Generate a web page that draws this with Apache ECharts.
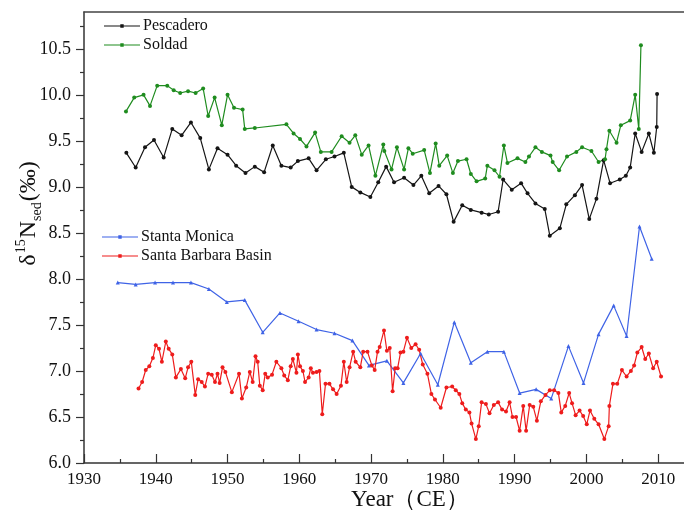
<!DOCTYPE html>
<html>
<head>
<meta charset="utf-8">
<script src="https://cdn.jsdelivr.net/npm/echarts@6/dist/echarts.min.js"></script>
<style>
  html, body { margin: 0; padding: 0; background: #fff; }
  #chart { width: 684px; height: 515px; }
</style>
</head>
<body>
<div id="chart"></div>
<script>
// δ15N of sediments at four Californian margin sites, by year (CE)
const pescaderoYears = [1935.9, 1937.2, 1938.5, 1939.75, 1941.1, 1942.3, 1943.6, 1944.9, 1946.2, 1947.4,
  1948.6, 1950.0, 1951.2, 1952.5, 1953.8, 1955.1, 1956.3, 1957.5, 1958.8, 1959.8,
  1961.3, 1962.4, 1963.7, 1964.9, 1966.2, 1967.3, 1968.5, 1969.9, 1971.0, 1972.1,
  1973.2, 1974.6, 1975.9, 1977.0, 1978.1, 1979.4, 1980.5, 1981.5, 1982.7, 1983.9,
  1985.4, 1986.4, 1987.7, 1988.4, 1989.6, 1990.9, 1991.8, 1992.9, 1994.2, 1994.9,
  1996.3, 1997.2, 1998.4, 1999.4, 2000.4, 2001.4, 2002.4, 2003.3, 2004.65, 2005.5,
  2006.1, 2006.8, 2007.7, 2008.7, 2009.4, 2009.8, 2009.85];
const pescaderoValues = [9.37, 9.21, 9.43, 9.51, 9.32, 9.63, 9.56, 9.70, 9.53, 9.19,
  9.42, 9.35, 9.23, 9.15, 9.22, 9.16, 9.45, 9.23, 9.21, 9.28,
  9.31, 9.18, 9.30, 9.33, 9.37, 9.00, 8.94, 8.89, 9.05, 9.22,
  9.05, 9.10, 9.02, 9.12, 8.93, 9.01, 8.92, 8.62, 8.80, 8.75,
  8.72, 8.70, 8.73, 9.08, 8.97, 9.04, 8.93, 8.82, 8.76, 8.47,
  8.55, 8.81, 8.91, 9.02, 8.65, 8.87, 9.29, 9.04, 9.08, 9.12,
  9.21, 9.58, 9.38, 9.58, 9.37, 9.65, 10.01];

const soldadYears = [1935.85, 1937.0, 1938.3, 1939.2, 1940.2, 1941.6, 1942.5, 1943.4, 1944.5, 1945.55,
  1946.6, 1947.3, 1948.2, 1949.2, 1950.0, 1950.9, 1952.1, 1952.4, 1953.8, 1958.2,
  1959.2, 1960.1, 1961.0, 1962.2, 1963.0, 1964.5, 1965.9, 1967.0, 1967.8, 1968.7,
  1969.65, 1970.6, 1971.7, 1971.85, 1972.85, 1973.6, 1974.6, 1975.2, 1975.8, 1977.4,
  1978.2, 1979.0, 1979.5, 1980.6, 1981.4, 1982.1, 1983.3, 1983.9, 1984.7, 1985.9,
  1986.2, 1987.2, 1987.9, 1988.5, 1989.0, 1990.4, 1991.5, 1992.0, 1992.9, 1993.8,
  1995.0, 1995.3, 1996.2, 1997.3, 1998.6, 1999.4, 2000.7, 2001.7, 2002.6, 2002.8,
  2003.2, 2004.2, 2004.8, 2006.1, 2006.8, 2007.3, 2007.6];
const soldadValues = [9.82, 9.97, 10.00, 9.88, 10.10, 10.10, 10.05, 10.02, 10.04, 10.02,
  10.07, 9.77, 9.97, 9.67, 10.00, 9.86, 9.84, 9.63, 9.64, 9.68,
  9.58, 9.52, 9.44, 9.59, 9.38, 9.38, 9.55, 9.48, 9.56, 9.35,
  9.45, 9.12, 9.46, 9.39, 9.19, 9.43, 9.19, 9.42, 9.36, 9.40,
  9.15, 9.47, 9.23, 9.34, 9.15, 9.28, 9.30, 9.14, 9.06, 9.09,
  9.23, 9.18, 9.11, 9.45, 9.26, 9.31, 9.27, 9.33, 9.43, 9.38,
  9.34, 9.27, 9.18, 9.33, 9.38, 9.43, 9.39, 9.27, 9.30, 9.41,
  9.61, 9.48, 9.67, 9.72, 10.00, 9.63, 10.54];

const monicaYears = [1934.7, 1937.2, 1939.9, 1942.4, 1944.9, 1947.4, 1949.9, 1952.4, 1954.9, 1957.3,
  1959.9, 1962.4, 1964.9, 1967.4, 1969.7, 1972.2, 1974.5, 1976.9, 1979.3, 1981.6,
  1983.9, 1986.2, 1988.5, 1990.7, 1993.0, 1995.1, 1997.5, 1999.6, 2001.7, 2003.8,
  2005.6, 2007.4, 2009.1];
const monicaValues = [7.96, 7.94, 7.96, 7.96, 7.96, 7.89, 7.75, 7.77, 7.42, 7.63,
  7.54, 7.45, 7.41, 7.33, 7.06, 7.11, 6.87, 7.19, 6.85, 7.53,
  7.09, 7.21, 7.21, 6.76, 6.80, 6.70, 7.27, 6.87, 7.40, 7.71,
  7.38, 8.57, 8.22];

const barbaraYears = [1937.6, 1938.1, 1938.6, 1939.1, 1939.6, 1940.0, 1940.45, 1940.85, 1941.4, 1941.8,
  1942.3, 1942.8, 1943.5, 1944.1, 1944.5, 1944.95, 1945.5, 1945.9, 1946.4, 1946.85,
  1947.3, 1947.8, 1948.25, 1948.6, 1948.9, 1949.3, 1949.7, 1950.6, 1951.6, 1952.0,
  1952.6, 1953.1, 1953.5, 1953.9, 1954.2, 1954.5, 1954.9, 1955.25, 1955.6, 1956.2,
  1956.8, 1957.5, 1957.9, 1958.4, 1958.8, 1959.1, 1959.6, 1959.8, 1960.1, 1960.5,
  1960.8, 1961.3, 1961.6, 1961.9, 1962.4, 1962.8, 1963.2, 1963.65, 1964.2, 1964.7,
  1965.2, 1965.8, 1966.2, 1966.6, 1967.0, 1967.5, 1967.85, 1968.5, 1968.9, 1969.5,
  1970.1, 1970.5, 1970.9, 1971.2, 1971.8, 1972.2, 1972.6, 1973.0, 1973.35, 1973.7,
  1974.1, 1974.5, 1975.0, 1975.6, 1976.2, 1976.7, 1977.2, 1977.85, 1978.4, 1978.9,
  1979.7, 1980.5, 1981.3, 1981.8, 1982.3, 1982.7, 1983.2, 1983.7, 1984.0, 1984.6,
  1985.0, 1985.4, 1986.0, 1986.5, 1987.1, 1987.7, 1988.25, 1988.8, 1989.3, 1989.7,
  1990.2, 1990.7, 1991.2, 1991.6, 1992.1, 1992.6, 1993.1, 1993.65, 1994.3, 1994.9,
  1995.5, 1996.1, 1996.5, 1997.05, 1997.6, 1998.0, 1998.5, 1999.05, 1999.55, 2000.05,
  2000.5, 2001.1, 2001.7, 2002.5, 2003.1, 2003.2, 2003.7, 2004.3, 2004.95, 2005.6,
  2006.2, 2006.65, 2007.1, 2007.7, 2008.2, 2008.7, 2009.3, 2009.8, 2010.4];
const barbaraValues = [6.81, 6.88, 7.01, 7.05, 7.14, 7.28, 7.24, 7.10, 7.32, 7.24,
  7.18, 6.93, 7.02, 6.92, 7.04, 7.10, 6.74, 6.91, 6.88, 6.83,
  6.97, 6.96, 6.88, 6.97, 6.87, 7.04, 6.99, 6.77, 6.97, 6.70,
  6.82, 6.99, 6.88, 7.16, 7.10, 6.84, 6.79, 6.97, 6.93, 6.96,
  7.10, 7.03, 6.95, 6.90, 7.05, 7.13, 6.98, 7.18, 7.05, 7.00,
  6.88, 6.93, 7.03, 6.98, 6.99, 7.00, 6.53, 6.86, 6.86, 6.80,
  6.75, 6.84, 7.10, 6.88, 7.04, 7.21, 7.10, 7.04, 7.21, 7.21,
  7.06, 7.01, 7.21, 7.26, 7.44, 7.22, 7.25, 6.78, 7.03, 7.03,
  7.20, 7.21, 7.36, 7.25, 7.29, 7.23, 7.07, 6.97, 6.75, 6.69,
  6.60, 6.82, 6.83, 6.79, 6.75, 6.65, 6.58, 6.55, 6.43, 6.26,
  6.40, 6.66, 6.64, 6.54, 6.63, 6.66, 6.58, 6.56, 6.66, 6.50,
  6.50, 6.35, 6.62, 6.35, 6.63, 6.61, 6.46, 6.67, 6.74, 6.79,
  6.79, 6.76, 6.55, 6.62, 6.76, 6.65, 6.52, 6.57, 6.51, 6.42,
  6.57, 6.48, 6.42, 6.26, 6.40, 6.62, 6.86, 6.86, 7.01, 6.94,
  7.00, 7.06, 7.20, 7.26, 7.13, 7.19, 7.03, 7.10, 6.94];

// axis ranges and labelled tick positions
const xMin = 1930, xMax = 2013.6, xStep = 10;
const yMin = 6.0, yMax = 10.9, yStep = 0.5;
const xTicks = [1930, 1940, 1950, 1960, 1970, 1980, 1990, 2000, 2010];
const yTicks = [6.0, 6.5, 7.0, 7.5, 8.0, 8.5, 9.0, 9.5, 10.0, 10.5];

const SERIF = '"Liberation Serif", "Times New Roman", serif';

function pairs(xs, ys) {
  return xs.map((x, i) => [x, ys[i]]);
}

// legend glyph: a thin line with a small dot in the middle
const LEGEND_ICON = 'path://M0,5.4L36,5.4L36,6.6L0,6.6Z M16.3,4.3L19.7,4.3L19.7,7.7L16.3,7.7Z';

function lineSeries(name, xs, ys, color, symbol) {
  return {
    name: name,
    type: 'line',
    data: pairs(xs, ys),
    symbol: symbol,
    symbolSize: 4,
    showSymbol: true,
    lineStyle: { color: color, width: 1.2 },
    itemStyle: { color: color },
    emphasis: { disabled: true },
    animation: false
  };
}

function legendBlock(names, left, top) {
  return {
    data: names.map(n => ({ name: n, icon: LEGEND_ICON })),
    orient: 'vertical',
    left: left, top: top,
    padding: 0,
    itemWidth: 36, itemHeight: 12, itemGap: 3,
    textStyle: { fontFamily: SERIF, fontSize: 16, lineHeight: 16, color: '#111', padding: [0, 0, 0, -2] }
  };
}

const chart = echarts.init(document.getElementById('chart'), null, { renderer: 'canvas' });

chart.setOption({
  backgroundColor: '#ffffff',
  animation: false,
  grid: { left: 84, right: 0, top: 12, bottom: 52, show: false, outerBoundsMode: 'none', containLabel: false },
  legend: [
    legendBlock(['Pescadero', 'Soldad'], 104, 18),
    legendBlock(['Stanta Monica', 'Santa Barbara Basin'], 102, 229)
  ],
  xAxis: [
    {
      type: 'value',
      min: xMin, max: xMax, interval: xStep,
      name: 'Year（CE）',
      nameLocation: 'middle',
      nameGap: 25,
      nameMoveOverlap: false,
      nameTextStyle: { fontFamily: SERIF, fontSize: 23, color: '#111', padding: [0, 0, 0, 52], verticalAlign: 'top' },
      axisLine: { show: true, lineStyle: { color: '#333', width: 1.5 } },
      axisTick: { show: true, inside: true, length: 9, customValues: xTicks, lineStyle: { color: '#333', width: 1.2 } },
      minorTick: { show: true, splitNumber: 2, length: 4, lineStyle: { color: '#333', width: 1.2 } },
      axisLabel: {
        fontFamily: SERIF, fontSize: 17, color: '#111', margin: 8,
        customValues: xTicks, formatter: v => String(Math.round(v))
      },
      splitLine: { show: false }
    },
    {
      // plain frame line along the top of the plot
      type: 'value', position: 'top',
      min: xMin, max: xMax,
      axisLine: { show: true, onZero: false, lineStyle: { color: '#444', width: 1.5 } },
      axisTick: { show: false }, axisLabel: { show: false }, splitLine: { show: false }
    }
  ],
  yAxis: {
    type: 'value',
    min: yMin, max: yMax, interval: yStep,
    name: '{t|δ}{sup|15}{t|N}{sub|sed}{t|(‰)}',
    nameLocation: 'middle',
    nameGap: 40,
    nameRotate: 90,
    nameMoveOverlap: false,
    nameTextStyle: {
      padding: [0, 0, 0, 48],
      rich: {
        t: { fontFamily: SERIF, fontSize: 24, color: '#111', lineHeight: 30, verticalAlign: 'middle' },
        sup: { fontFamily: SERIF, fontSize: 14, color: '#111', lineHeight: 30, verticalAlign: 'top', padding: [0, 1, 0, 1] },
        sub: { fontFamily: SERIF, fontSize: 14, color: '#111', lineHeight: 30, verticalAlign: 'bottom', padding: [0, 1, 0, 0] }
      }
    },
    axisLine: { show: true, lineStyle: { color: '#333', width: 1.5 } },
    axisTick: { show: true, inside: false, length: 8, customValues: yTicks, lineStyle: { color: '#333', width: 1.2 } },
    minorTick: { show: true, splitNumber: 2, length: 4, lineStyle: { color: '#333', width: 1.2 } },
    axisLabel: {
      fontFamily: SERIF, fontSize: 18, color: '#111', margin: 13,
      customValues: yTicks, formatter: v => v.toFixed(1)
    },
    splitLine: { show: false }
  },
  series: [
    lineSeries('Pescadero', pescaderoYears, pescaderoValues, '#151515', 'circle'),
    lineSeries('Soldad', soldadYears, soldadValues, '#1f8c1f', 'circle'),
    lineSeries('Stanta Monica', monicaYears, monicaValues, '#3f63e6', 'triangle'),
    lineSeries('Santa Barbara Basin', barbaraYears, barbaraValues, '#ee1c1c', 'circle')
  ]
});
</script>
</body>
</html>
